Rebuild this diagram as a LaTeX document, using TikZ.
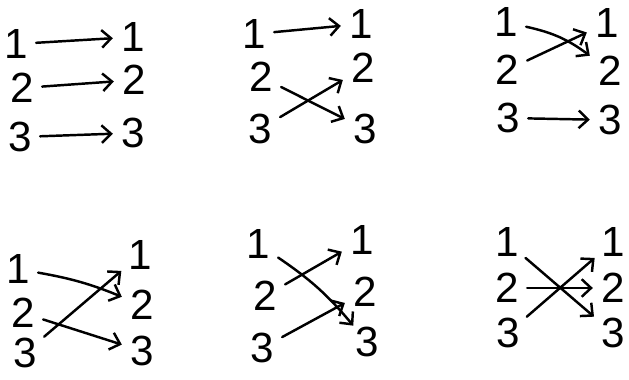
\documentclass[tikz,border=0pt]{standalone}
\usepackage{fontspec}
\setmainfont{Liberation Sans}
\usepackage{tikz}
\usetikzlibrary{arrows.meta}

\tikzset{
  num/.style={font=\fontsize{36}{36}\selectfont, inner xsep=7pt, inner ysep=1pt},
  perm/.style={-{Straight Barb[length=8pt,width=15pt]}, line width=2.1pt, line cap=round},
}

\begin{document}
\begin{tikzpicture}[x=0.03cm, y=-0.03cm]
    \useasboundingbox (0,0) rectangle (629,379);

    % 1. Panel oben links: 1->1, 2->2, 3->3
    \node[num] (p1a1) at (16,44) {1};
    \node[num] (p1a2) at (22,88) {2};
    \node[num] (p1a3) at (20,137) {3};
    \node[num] (p1b1) at (133,37) {1};
    \node[num] (p1b2) at (134,80) {2};
    \node[num] (p1b3) at (133,133) {3};
    \draw[perm] (p1a1) -- (p1b1);
    \draw[perm] (p1a2) -- (p1b2);
    \draw[perm] (p1a3) -- (p1b3);

    % 2. Panel oben Mitte: 1->1, 2->3, 3->2
    \node[num] (p2a1) at (254,34) {1};
    \node[num] (p2a2) at (261,77) {2};
    \node[num] (p2a3) at (260,129) {3};
    \node[num] (p2b1) at (361,24) {1};
    \node[num] (p2b2) at (363,68) {2};
    \node[num] (p2b3) at (365,129) {3};
    \draw[perm] (p2a1) -- (p2b1);
    \draw[perm] (p2a2) -- (p2b3);
    \draw[perm] (p2a3) -- (p2b2);

    % 3. Panel oben rechts: 1->2, 2->1, 3->3
    \node[num] (p3a1) at (506,22) {1};
    \node[num] (p3a2) at (507,70) {2};
    \node[num] (p3a3) at (508,118) {3};
    \node[num] (p3b1) at (607,23) {1};
    \node[num] (p3b2) at (610,71) {2};
    \node[num] (p3b3) at (610,120) {3};
    \draw[perm] (p3a1) to[bend left=12] (p3b2);
    \draw[perm] (p3a2) -- (p3b1);
    \draw[perm] (p3a3) -- (p3b3);

    % 4. Panel unten links: 1->2, 2->3, 3->1
    \node[num] (p4a1) at (18,269) {1};
    \node[num] (p4a2) at (23,313) {2};
    \node[num] (p4a3) at (25,353) {3};
    \node[num] (p4b1) at (140,255) {1};
    \node[num] (p4b2) at (142,305) {2};
    \node[num] (p4b3) at (142,351) {3};
    \draw[perm] (p4a1) to[bend left=6] (p4b2);
    \draw[perm] (p4a2) -- (p4b3);
    \draw[perm] (p4a3) -- (p4b1);

    % 5. Panel unten Mitte: 1->3, 2->1, 3->2
    \node[num] (p5a1) at (258,244) {1};
    \node[num] (p5a2) at (265,296) {2};
    \node[num] (p5a3) at (262,348) {3};
    \node[num] (p5b1) at (362,240) {1};
    \node[num] (p5b2) at (365,292) {2};
    \node[num] (p5b3) at (367,342) {3};
    \draw[perm] (p5a1) to[bend left=8] (p5b3);
    \draw[perm] (p5a2) -- (p5b1);
    \draw[perm] (p5a3) -- (p5b2);

    % 6. Panel unten rechts: 1->3, 2->2, 3->1
    \node[num] (p6a1) at (507,242) {1};
    \node[num] (p6a2) at (507,288) {2};
    \node[num] (p6a3) at (508,333) {3};
    \node[num] (p6b1) at (613,242) {1};
    \node[num] (p6b2) at (613,288) {2};
    \node[num] (p6b3) at (613,333) {3};
    \draw[perm] (p6a1) -- (p6b3);
    \draw[perm] (p6a2) -- (p6b2);
    \draw[perm] (p6a3) -- (p6b1);

\end{tikzpicture}
\end{document}
